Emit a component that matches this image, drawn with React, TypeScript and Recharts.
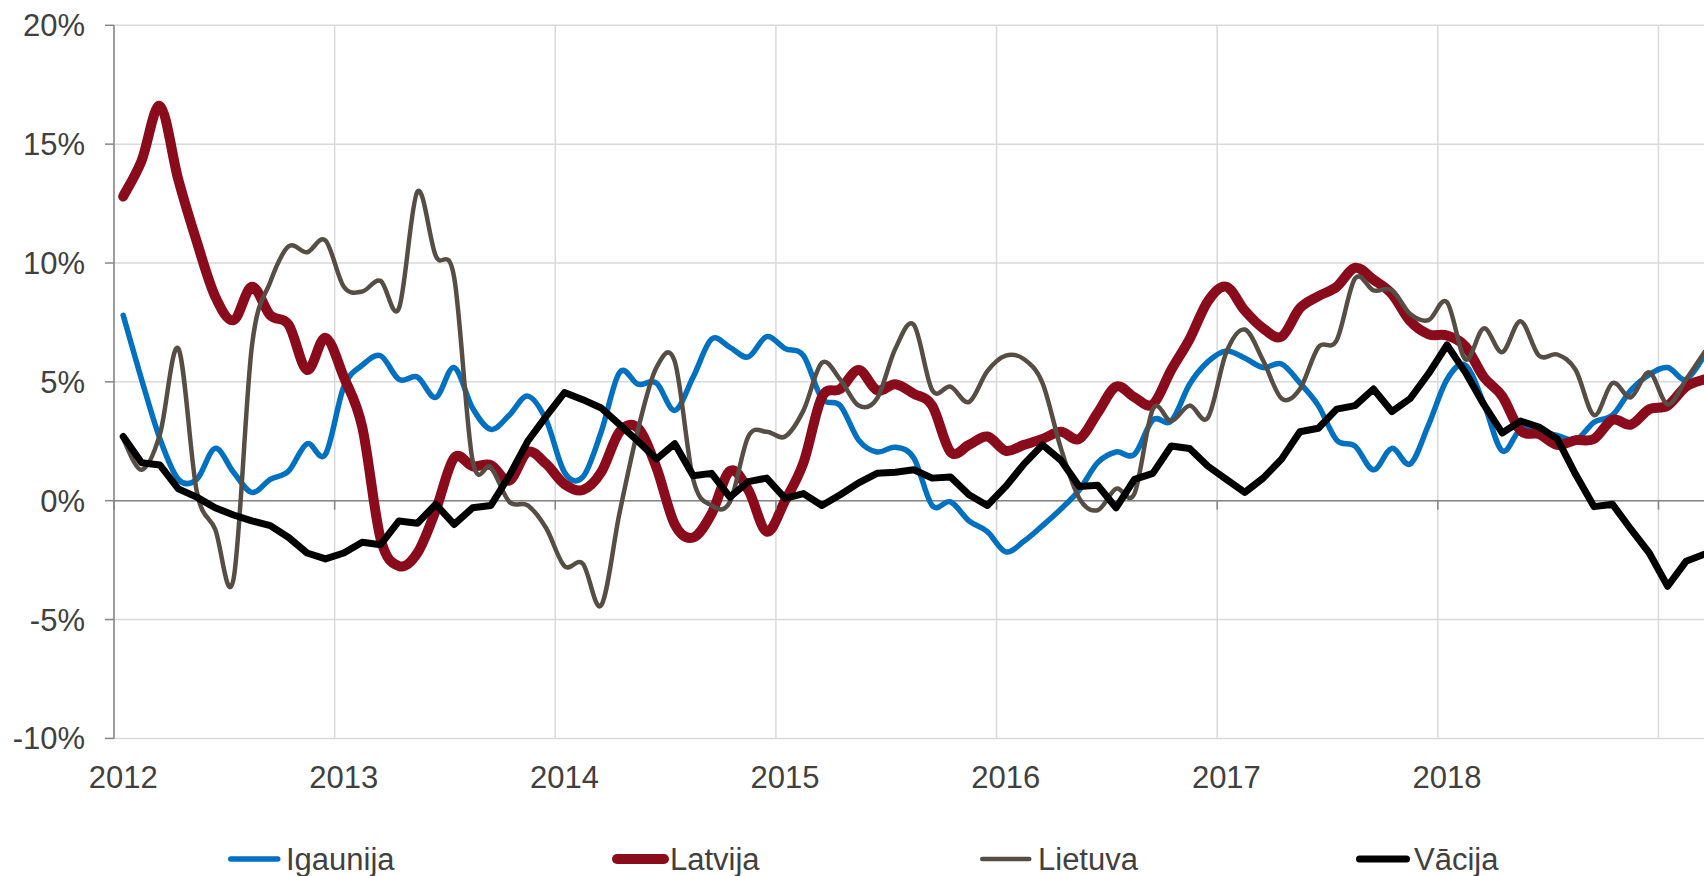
import { LineChart, Line, XAxis, YAxis, CartesianGrid, ReferenceLine } from 'recharts'

// monthly values, Jan 2012 .. Mar 2019 (%)
const years = ['2012', '2013', '2014', '2015', '2016', '2017', '2018', '']
const yTicks = [-10, -5, 0, 5, 10, 15, 20]

const igaunija = [
  7.8, 5.1, 2.6, 0.9, 0.9, 2.2, 1.2, 0.35, 0.9, 1.25, 2.4, 1.95,
  4.8, 5.7, 6.1, 5.1, 5.2, 4.35, 5.6, 3.9, 3.0, 3.6, 4.4, 3.4,
  1.2, 1.0, 2.9, 5.4, 4.9, 4.95, 3.8, 5.2, 6.8, 6.45, 6.05, 6.9,
  6.4, 6.1, 4.3, 4.0, 2.55, 2.05, 2.25, 1.8, -0.2, -0.05, -0.85, -1.3,
  -2.15, -1.7, -1.05, -0.35, 0.45, 1.6, 2.05, 1.95, 3.4, 3.35, 4.9, 5.85,
  6.3, 6.0, 5.6, 5.75, 4.95, 4.0, 2.55, 2.3, 1.3, 2.2, 1.55, 3.2,
  5.1, 5.7, 4.1, 2.1, 3.0, 2.9, 2.75, 2.55, 3.3, 3.6, 4.65, 5.3,
  5.6, 5.1, 6.1,
]

const latvija = [
  12.8, 14.3, 16.6, 13.5, 10.9, 8.6, 7.6, 9.0, 7.8, 7.4, 5.5, 6.85,
  5.2, 3.1, -1.6, -2.75, -2.2, -0.4, 1.8, 1.45, 1.5, 0.85, 2.05, 1.55,
  0.7, 0.45, 1.2, 2.9, 3.05, 1.4, -1.0, -1.55, -0.55, 1.25, 0.45, -1.3,
  0.0, 1.6, 4.35, 4.7, 5.5, 4.65, 4.9, 4.5, 4.0, 2.05, 2.35, 2.7,
  2.1, 2.35, 2.6, 2.9, 2.6, 3.7, 4.8, 4.35, 4.05, 5.5, 6.8, 8.4,
  9.0, 8.0, 7.25, 6.9, 8.1, 8.6, 9.0, 9.8, 9.3, 8.7, 7.55, 7.0,
  6.95, 6.5, 5.2, 4.4, 2.95, 2.8, 2.35, 2.55, 2.6, 3.4, 3.2, 3.85,
  4.0, 4.8, 5.1,
]

const lietuva = [
  2.6, 1.3, 2.8, 6.4, 0.4, -1.2, -3.3, 6.5, 9.2, 10.7, 10.45, 10.95,
  9.0, 8.8, 9.25, 8.1, 13.0, 10.3, 9.4, 1.7, 1.4, -0.05, -0.2, -1.15,
  -2.75, -2.65, -4.4, -0.5, 3.0, 5.6, 5.85, 0.9, -0.2, -0.05, 2.7, 2.9,
  2.7, 3.8, 5.8, 5.1, 4.0, 4.3, 6.4, 7.4, 4.65, 4.8, 4.15, 5.45,
  6.1, 5.95, 4.95, 2.2, 0.1, -0.4, 0.5, 0.3, 3.85, 3.35, 4.0, 3.5,
  6.25, 7.2, 5.9, 4.3, 4.7, 6.45, 6.75, 9.35, 8.85, 8.85, 7.85, 7.6,
  8.35, 5.95, 7.25, 6.25, 7.55, 6.1, 6.15, 5.5, 3.6, 4.95, 4.35, 5.4,
  4.05, 5.1, 6.25,
]

const vacija = [
  2.7, 1.6, 1.5, 0.5, 0.15, -0.3, -0.6, -0.85, -1.05, -1.55, -2.2, -2.45,
  -2.2, -1.75, -1.85, -0.85, -0.95, -0.15, -1.0, -0.3, -0.2, 1.05, 2.5, 3.55,
  4.55, 4.25, 3.9, 3.2, 2.5, 1.75, 2.4, 1.05, 1.15, 0.15, 0.8, 0.95,
  0.1, 0.3, -0.2, 0.25, 0.75, 1.15, 1.2, 1.3, 0.95, 1.0, 0.25, -0.2,
  0.6, 1.55, 2.35, 1.7, 0.6, 0.65, -0.3, 0.9, 1.15, 2.3, 2.2, 1.45,
  0.9, 0.35, 0.95, 1.75, 2.9, 3.05, 3.85, 4.0, 4.7, 3.75, 4.3, 5.35,
  6.55, 5.4, 4.05, 2.85, 3.35, 3.1, 2.6, 1.1, -0.25, -0.15, -1.2, -2.2,
  -3.6, -2.55, -2.25,
]

const series = [
  { key: 'igaunija', name: 'Igaunija', color: '#0070c0', width: 5.5, smooth: true },
  { key: 'latvija', name: 'Latvija', color: '#8a0b1c', width: 10, smooth: true },
  { key: 'lietuva', name: 'Lietuva', color: '#564e45', width: 4.5, smooth: true },
  { key: 'vacija', name: 'Vācija', color: '#000000', width: 7, smooth: false },
]

// points sit in the middle of their month
const data = igaunija.map((v, i) => ({
  t: i + 0.5,
  igaunija: v,
  latvija: latvija[i],
  lietuva: lietuva[i],
  vacija: vacija[i],
}))

const FONT = '"Liberation Sans", Arial, sans-serif'
const TEXT = '#404040'
const AXIS = '#868686'
const GRID = '#d9d9d9'
const FS = 31

const W = 1732
const H = 876
const TOP = 25.3
const PLOT_H = 713.1
const Y_AXIS_W = 114
const ZERO_Y = TOP + PLOT_H * (20 / 30)

const legendX = [228, 612, 980, 1356]

// Excel-style smoothed line (Bezier through every point)
const excelCurve = (ctx: any) => {
  let pts: number[][] = []
  return {
    areaStart() {},
    areaEnd() {},
    lineStart() { pts = [] },
    point(x: number, y: number) { pts.push([+x, +y]) },
    lineEnd() {
      if (!pts.length) return
      ctx.moveTo(pts[0][0], pts[0][1])
      for (let i = 0; i < pts.length - 1; i++) {
        const p0 = pts[Math.max(i - 1, 0)]
        const p1 = pts[i]
        const p2 = pts[i + 1]
        const p3 = pts[Math.min(i + 2, pts.length - 1)]
        ctx.bezierCurveTo(
          p1[0] + (p2[0] - p0[0]) / 6, p1[1] + (p2[1] - p0[1]) / 6,
          p2[0] - (p3[0] - p1[0]) / 6, p2[1] - (p3[1] - p1[1]) / 6,
          p2[0], p2[1],
        )
      }
    },
  }
}

function YearTick({ x, y, payload }: any) {
  const label = years[Math.round(payload.value / 12)]
  return (
    <g>
      <line x1={x} x2={x} y1={ZERO_Y} y2={ZERO_Y + 9} stroke={AXIS} strokeWidth={1.5} />
      <text x={x + 9.2} y={y + 50} textAnchor="middle" fontSize={FS} fill={TEXT} fontFamily={FONT}>
        {label}
      </text>
    </g>
  )
}

function ChartLegend() {
  return (
    <svg width={1704} height={56} style={{ position: 'absolute', left: 0, top: 820 }}>
      {series.map((s, i) => (
        <g key={s.key}>
          <line
            x1={legendX[i] + s.width / 2}
            x2={legendX[i] + s.width / 2 + 47}
            y1={39}
            y2={39}
            stroke={s.color}
            strokeWidth={s.width}
            strokeLinecap="round"
          />
          <text x={legendX[i] + 58} y={50} fontSize={FS} fill={TEXT} fontFamily={FONT}>
            {s.name}
          </text>
        </g>
      ))}
    </svg>
  )
}

export default function App() {
  return (
    <div
      style={{
        position: 'fixed', left: 0, top: 0, width: 1704, height: 876,
        overflow: 'hidden', background: '#fff', fontFamily: FONT,
      }}
    >
      <LineChart width={W} height={H} data={data} margin={{ top: TOP, right: 0, bottom: 0, left: 0 }}>
        <CartesianGrid stroke={GRID} strokeWidth={1.5} />
        <XAxis
          type="number"
          dataKey="t"
          domain={[0, 88]}
          ticks={years.map((_, i) => i * 12)}
          tick={<YearTick />}
          tickSize={0}
          tickMargin={0}
          axisLine={false}
          tickLine={false}
          height={H - TOP - PLOT_H}
          interval={0}
        />
        <YAxis
          type="number"
          domain={[-10, 20]}
          ticks={yTicks}
          width={Y_AXIS_W}
          tickSize={9}
          tickMargin={20}
          tickFormatter={(v) => `${v}%`}
          tick={{ fontSize: FS, fill: TEXT, fontFamily: FONT }}
          axisLine={{ stroke: AXIS, strokeWidth: 1.5 }}
          tickLine={{ stroke: AXIS, strokeWidth: 1.5 }}
          interval={0}
        />
        <ReferenceLine y={0} stroke={AXIS} strokeWidth={1.5} />
        {series.map((s) => (
          <Line
            key={s.key}
            dataKey={s.key}
            name={s.name}
            type={s.smooth ? excelCurve : 'linear'}
            stroke={s.color}
            strokeWidth={s.width}
            strokeLinejoin="round"
            strokeLinecap="round"
            dot={false}
            activeDot={false}
            isAnimationActive={false}
          />
        ))}
      </LineChart>
      <ChartLegend />
    </div>
  )
}
